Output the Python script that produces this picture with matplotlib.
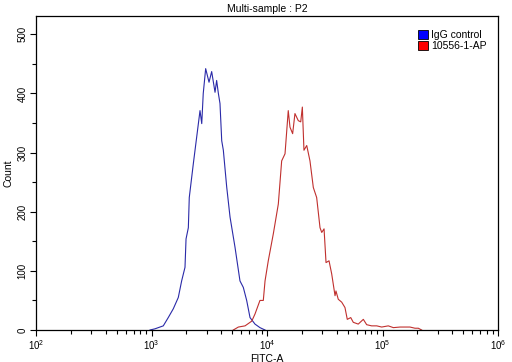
import matplotlib
matplotlib.use("Agg")
import matplotlib.pyplot as plt
import numpy as np
from matplotlib.patches import Patch
from matplotlib.ticker import LogLocator, NullFormatter, MultipleLocator

plt.rcParams['font.family'] = ['Liberation Sans', 'DejaVu Sans']

# Data (log10 FITC-A, count)
igg_log = [2.987, 3.030, 3.102, 3.145, 3.189, 3.232, 3.261, 3.290, 3.299, 3.319, 3.327,
           3.362, 3.391, 3.420, 3.435, 3.448, 3.469, 3.498, 3.521, 3.550, 3.564, 3.579,
           3.593, 3.608, 3.622, 3.651, 3.680, 3.723, 3.766, 3.795, 3.824, 3.853, 3.896,
           3.939, 3.983]
igg_count = [0, 2, 7, 21, 36, 55, 83, 106, 154, 173, 224,
             281, 326, 371, 349, 400, 442, 419, 437, 402, 422, 400,
             383, 320, 304, 242, 191, 140, 83, 72, 50, 21, 10,
             4, 0]

ab_log = [3.708, 3.752, 3.810, 3.868, 3.896, 3.939, 3.968, 3.983, 4.011, 4.055, 4.098,
          4.127, 4.156, 4.184, 4.199, 4.222, 4.242, 4.271, 4.292, 4.306, 4.320, 4.344,
          4.372, 4.401, 4.430, 4.459, 4.474, 4.494, 4.511, 4.537, 4.560, 4.589, 4.597,
          4.617, 4.647, 4.675, 4.695, 4.725, 4.747, 4.790, 4.834, 4.863, 4.906, 4.950,
          4.993, 5.050, 5.094, 5.152, 5.238, 5.281, 5.310, 5.339]
ab_count = [0, 5, 7, 15, 27, 50, 50, 83, 117, 163, 213,
            286, 298, 371, 343, 332, 366, 354, 352, 377, 304, 312,
            286, 241, 224, 173, 165, 171, 114, 117, 95, 58, 66,
            52, 47, 38, 18, 21, 13, 10, 18, 9, 7, 7,
            5, 7, 4, 5, 5, 3, 3, 0]

series_names = ["IgG control", "10556-1-AP"]
line_colors = ["#2a2aa8", "#c0302e"]
legend_colors = ["#0000ff", "#ff0000"]

fig = plt.figure(figsize=(5.12, 3.62), dpi=100)
ax = fig.add_axes([36/512, 1 - 330/362, (498 - 36)/512, (330 - 16)/362])

ax.plot(10 ** np.array(igg_log), igg_count, color=line_colors[0], lw=0.8)
ax.plot(10 ** np.array(ab_log), ab_count, color=line_colors[1], lw=0.8)

ax.set_xscale('log')
ax.set_xlim(1e2, 1e6)
ax.set_ylim(0, 531)
ax.xaxis.set_major_locator(LogLocator(base=10, numticks=10))
ax.xaxis.set_minor_locator(LogLocator(base=10, subs=np.arange(2, 10), numticks=20))
ax.xaxis.set_minor_formatter(NullFormatter())
ax.yaxis.set_major_locator(MultipleLocator(100))
ax.yaxis.set_minor_locator(MultipleLocator(50))

ax.tick_params(axis='both', which='major', direction='out', length=4, width=0.8,
               labelsize=7, colors='black')
ax.tick_params(axis='both', which='minor', direction='out', length=3, width=0.8)
ax.tick_params(axis='x', pad=2)
ax.tick_params(axis='y', pad=2)
for lbl in ax.get_yticklabels():
    lbl.set_rotation(90)
    lbl.set_va('center')
for s in ax.spines.values():
    s.set_linewidth(0.9)
    s.set_color('black')

ax.set_xlabel("FITC-A", fontsize=7.5, labelpad=1)
ax.set_ylabel("Count", fontsize=7.5, labelpad=3)
ax.set_title("Multi-sample : P2", fontsize=7.5, pad=3)

handles = [Patch(facecolor=c, edgecolor='black', linewidth=0.6) for c in legend_colors]
ax.legend(handles, series_names, loc='upper right', frameon=False, fontsize=7.5,
          handlelength=0.9, handleheight=0.9, handletextpad=0.3, labelspacing=0.1,
          bbox_to_anchor=(0.995, 0.985), borderaxespad=0.5)

fig.savefig("out.png", dpi=100)
